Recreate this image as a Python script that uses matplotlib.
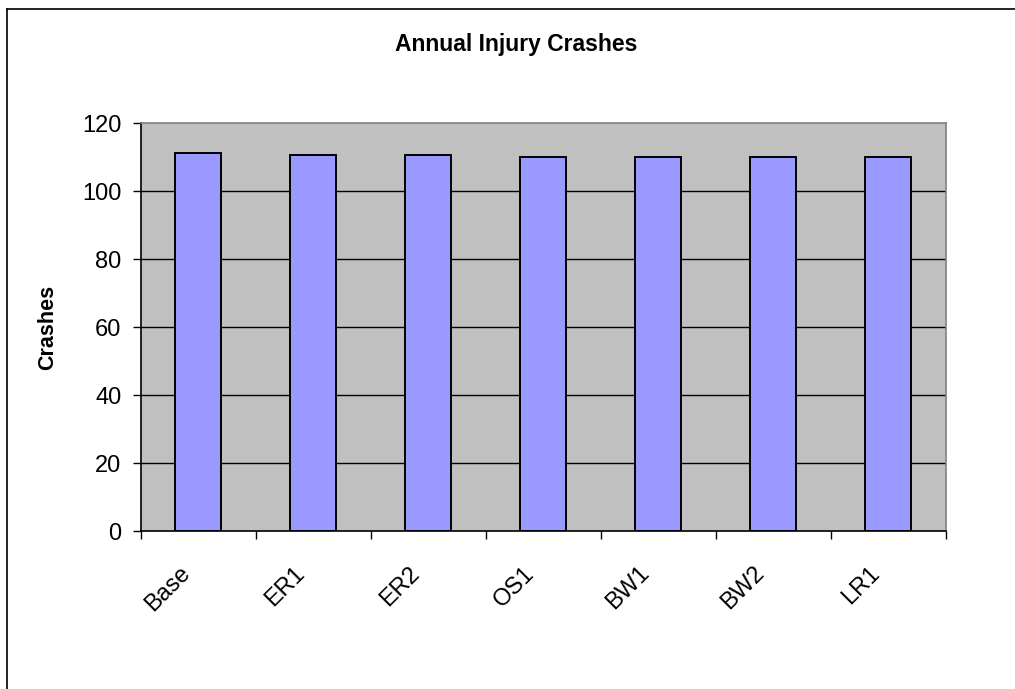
import numpy as np
import matplotlib
matplotlib.use('Agg')
import matplotlib.pyplot as plt
import matplotlib.transforms as mtransforms
from matplotlib.lines import Line2D

plt.rcParams['font.family'] = ['Liberation Sans', 'DejaVu Sans']

# data
scenarios = ['Base', 'ER1', 'ER2', 'OS1', 'BW1', 'BW2', 'LR1']
crashes = [111.2, 110.6, 110.6, 110.0, 110.0, 110.0, 110.0]
yticks = [0, 20, 40, 60, 80, 100, 120]

fig = plt.figure(figsize=(10.15, 6.89), dpi=100)
ax = fig.add_axes([0.1389, 0.2293, 0.9317 - 0.1389, 0.821 - 0.2293])
ax.set_facecolor('#C0C0C0')

x = np.arange(len(scenarios))
ax.bar(x, crashes, width=0.4, color='#9999FF', edgecolor='black', linewidth=1.4, zorder=3)

ax.set_xlim(-0.5, len(scenarios) - 0.5)
ax.set_ylim(0, 120)
ax.set_yticks(yticks)
ax.set_yticklabels([str(v) for v in yticks], fontsize=17)
for v in yticks[1:-1]:
    ax.axhline(v, color='black', linewidth=1, zorder=1)

# boundary ticks, labels in the middle
ax.set_xticks(np.arange(len(scenarios) + 1) - 0.5)
ax.set_xticklabels([])
ax.set_xticks(x, minor=True)
ax.set_xticklabels(scenarios, minor=True, fontsize=17, rotation=45, ha='right',
                   va='center', rotation_mode='anchor')
ax.tick_params(axis='x', which='minor', length=0, pad=28)
ax.tick_params(axis='both', which='major', direction='out', length=6, width=1, color='black')
ax.tick_params(axis='y', pad=8)
shift = mtransforms.ScaledTranslation(-12 / 100, 0, fig.dpi_scale_trans)
for lab in ax.get_xticklabels(minor=True):
    lab.set_transform(lab.get_transform() + shift)

ax.spines['left'].set_color('black')
ax.spines['bottom'].set_color('black')
ax.spines['top'].set_color('#808080')
ax.spines['right'].set_color('#808080')
for s in ax.spines.values():
    s.set_linewidth(1.2)

ax.set_ylabel('Crashes', fontsize=15.5, fontweight='bold', labelpad=17)
fig.text(0.5084, 1 - 44 / 689, 'Annual Injury Crashes', fontsize=16.5, fontweight='bold',
         ha='center', va='center')

# chart area border (top and left only visible)
fig.add_artist(Line2D([7 / 1015, 1], [1 - 9 / 689, 1 - 9 / 689], color='black', linewidth=1.2))
fig.add_artist(Line2D([7 / 1015, 7 / 1015], [0, 1 - 9 / 689], color='black', linewidth=1.2))

fig.savefig('out.png', dpi=100)
